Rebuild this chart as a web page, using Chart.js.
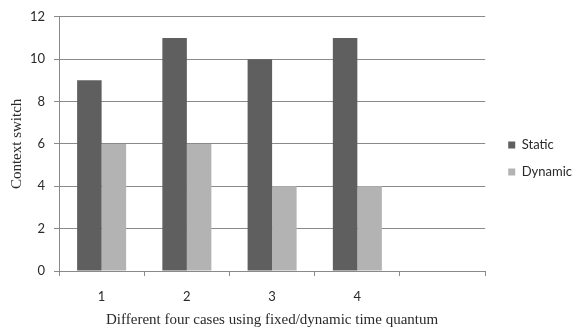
<!DOCTYPE html>
<html>
<head>
<meta charset="utf-8">
<script src="https://cdn.jsdelivr.net/npm/chart.js@4"></script>
<style>
  html, body { margin: 0; padding: 0; background: #fff; }
  #wrap { width: 579px; height: 329px; }
</style>
</head>
<body>
<div id="wrap"><canvas id="chart" width="579" height="329"></canvas></div>
<script>
// categories (the 5th slot is left empty, as in the original)
const categories = ['1', '2', '3', '4', ''];
const staticValues = [9, 11, 10, 11, null];
const dynamicValues = [6, 6, 4, 4, null];
const yMin = 0, yMax = 12, yStep = 2;

const gridColor = '#8a8a8a';
const labelColor = '#2a2a2a';

// nudge the legend a little away from the plot, like the original
const legendShift = {
    id: 'legendShift',
    afterLayout(chart) {
        const lg = chart.legend;
        if (!lg) return;
        lg.left += 9; lg.right += 9;
        lg.top -= 12; lg.bottom -= 12;
    }
};

new Chart(document.getElementById('chart'), {
    type: 'bar',
    data: {
        labels: categories,
        datasets: [{
            label: 'Static',
            data: staticValues,
            backgroundColor: '#5f5f5f',
            barPercentage: 1,
            categoryPercentage: 0.575
        }, {
            label: 'Dynamic',
            data: dynamicValues,
            backgroundColor: '#b3b3b3',
            barPercentage: 1,
            categoryPercentage: 0.575
        }]
    },
    options: {
        responsive: false,
        animation: false,
        layout: { padding: { top: 12, right: 6, left: 0, bottom: 0 } },
        plugins: {
            tooltip: { enabled: false },
            legend: {
                position: 'right',
                align: 'center',
                labels: {
                    boxWidth: 7,
                    boxHeight: 7,
                    padding: 14,
                    color: labelColor,
                    font: { family: 'Lato', size: 13 }
                }
            }
        },
        scales: {
            x: {
                grid: { display: true, drawOnChartArea: false, drawTicks: true, tickLength: 5, color: gridColor },
                border: { color: gridColor },
                ticks: { color: labelColor, padding: 13, font: { family: 'Lato', size: 13 } },
                title: {
                    display: true,
                    text: 'Different four cases using fixed/dynamic time quantum',
                    color: labelColor,
                    font: { family: 'Liberation Serif', size: 15 },
                    padding: { top: 1, bottom: 0 }
                },
                afterFit(scale) { scale.height = 58; }
            },
            y: {
                min: yMin,
                max: yMax,
                grid: { color: gridColor, tickLength: 5 },
                border: { color: gridColor },
                ticks: { stepSize: yStep, color: labelColor, padding: 9, font: { family: 'Lato', size: 13 } },
                title: {
                    display: true,
                    text: 'Context switch',
                    color: labelColor,
                    font: { family: 'Liberation Serif', size: 15 },
                    padding: { top: 8, bottom: 0 }
                },
                afterFit(scale) { scale.width = 59; }
            }
        }
    },
    plugins: [legendShift]
});
</script>
</body>
</html>
